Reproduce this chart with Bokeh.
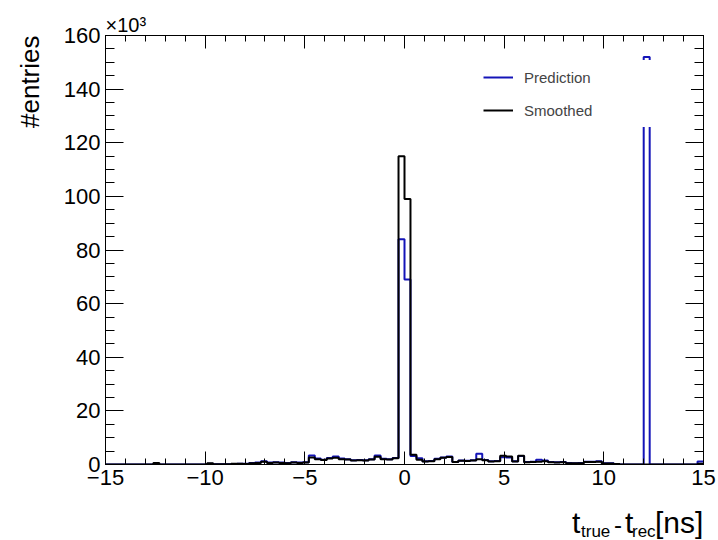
from bokeh.plotting import figure
from bokeh.layouts import column
from bokeh.models import (Range1d, FixedTicker, LinearAxis, Legend, LegendItem, Title, Div)
from bokeh.embed import file_html
from bokeh.resources import INLINE

# ---- data (entries in units of 10^3), 100 bins from -15 to 15 ns ----
bin_lo = -15.0
bin_hi = 15.0
n_bins = 100

prediction = [
    0, 0, 0, 0, 0, 0, 0, 0, 0.2, 0,
    0, 0, 0, 0, 0, 0, 0, 0.3, 0.1, 0.1,
    0.1, 0.2, 0.3, 0.3, 0.6, 0.7, 1.2, 0.7, 0.8, 0.7,
    0.6, 0.8, 0.7, 0.8, 3.4, 2.2, 1.8, 2.4, 3.0, 2.2,
    2.0, 1.6, 1.7, 1.6, 2.0, 3.4, 2.1, 2.0, 2.4, 84.0,
    69.0, 3.2, 2.3, 1.2, 1.3, 2.1, 2.6, 3.0, 0.9, 1.5,
    1.4, 1.6, 4.0, 1.7, 1.2, 1.3, 2.7, 2.6, 1.2, 3.2,
    0.9, 1.0, 1.8, 1.5, 0.9, 0.8, 0.9, 0.6, 0.5, 0.6,
    1.0, 1.0, 1.2, 0.5, 0.5, 0.1, 0, 0, 0, 0,
    152.0, 0, 0, 0, 0, 0, 0, 0, 0, 1.1,
]

smoothed = [
    0, 0, 0, 0, 0, 0, 0, 0, 0.6, 0,
    0, 0, 0, 0, 0, 0, 0, 0.5, 0.1, 0.1,
    0.1, 0.3, 0.3, 0.2, 0.5, 0.6, 1.0, 0.6, 0.7, 0.6,
    0.5, 0.7, 0.6, 0.7, 2.6, 2.0, 1.7, 2.2, 2.5, 2.0,
    1.9, 1.5, 1.6, 1.5, 1.9, 2.9, 2.0, 1.9, 2.3, 115.0,
    99.0, 3.6, 1.8, 1.1, 1.2, 2.0, 2.5, 2.8, 0.9, 1.4,
    1.3, 1.5, 2.0, 1.6, 1.1, 1.2, 3.3, 3.0, 1.1, 3.3,
    0.8, 0.9, 1.0, 1.2, 0.8, 0.7, 0.8, 0.5, 0.5, 0.5,
    0.9, 0.9, 1.0, 0.4, 0.4, 0.2, 0, 0, 0, 0,
    0, 0, 0, 0, 0, 0, 0, 0, 0, 0.3,
]

x_ticks = [-15, -10, -5, 0, 5, 10, 15]
x_tick_labels = ["\u221215", "\u221210", "\u22125", "0", "5", "10", "15"]
y_ticks = [0, 20, 40, 60, 80, 100, 120, 140, 160]
y_tick_labels = ["0", "20", "40", "60", "80", "100", "120", "140", "160"]

series_names = ["Prediction", "Smoothed"]
series_colors = ["#1414b8", "#000000"]

y_title = "#entries"
y_multiplier = "\u00d710\u00b3"

# x title pieces: t_true - t_rec[ns]  (0 = main text, 1 = subscript, 2 = separator)
x_title_parts = ["t", "true", "-", "t", "rec", "[ns]"]
x_title_kind = [0, 1, 2, 0, 1, 0]

# ---- figure ----
FONT = "Liberation Sans"
width_bin = (bin_hi - bin_lo) / n_bins
edges = [bin_lo + width_bin * i for i in range(n_bins + 1)]

p = figure(width=718, height=500, output_backend="svg", toolbar_location=None,
           x_range=Range1d(bin_lo, bin_hi), y_range=Range1d(0, 160),
           min_border_left=104, min_border_right=15, min_border_top=35,
           min_border_bottom=36, x_axis_location=None, y_axis_location=None)
p.xgrid.visible = False
p.ygrid.visible = False
p.outline_line_color = "black"
p.outline_line_width = 1
p.background_fill_color = "white"
p.border_fill_color = "white"

x_minor = [float(v) for v in range(int(bin_lo), int(bin_hi) + 1)]
y_minor = [float(v) for v in range(0, 161, 5)]


def make_axis(kind, show_labels):
    if kind == "x":
        ax = LinearAxis(ticker=FixedTicker(ticks=x_ticks, minor_ticks=x_minor))
        ax.major_tick_in = 13
        ax.minor_tick_in = 6
        if show_labels:
            ax.major_label_overrides = {t: s for t, s in zip(x_ticks, x_tick_labels)}
    else:
        ax = LinearAxis(ticker=FixedTicker(ticks=y_ticks, minor_ticks=y_minor))
        ax.major_tick_in = 18
        ax.minor_tick_in = 9
        if show_labels:
            ax.major_label_overrides = {t: s for t, s in zip(y_ticks, y_tick_labels)}
    ax.major_tick_out = 0
    ax.minor_tick_out = 0
    ax.axis_line_color = "black"
    ax.major_tick_line_color = "black"
    ax.minor_tick_line_color = "black"
    if show_labels:
        ax.major_label_text_font = FONT
        ax.major_label_text_font_size = "22px"
        ax.major_label_text_color = "black"
        ax.major_label_standoff = 5
    else:
        ax.major_label_text_font_size = "0px"
        ax.major_label_standoff = 0
    return ax


p.add_layout(make_axis("x", True), "below")
p.add_layout(make_axis("x", False), "above")
p.add_layout(make_axis("y", True), "left")
p.add_layout(make_axis("y", False), "right")

# axis titles that live in the side panels
p.add_layout(Title(text=y_title, align="right", vertical_align="top", text_font=FONT,
                   text_font_size="26px", text_font_style="normal", text_color="black",
                   standoff=28), "left")
p.add_layout(Title(text=y_multiplier, align="left", text_font=FONT, text_font_size="20px",
                   text_font_style="normal", text_color="black", standoff=0), "above")

renderers = []
for vals, col in zip([prediction, smoothed], series_colors):
    r = p.step(x=edges, y=list(vals) + [vals[-1]], mode="after",
               line_color=col, line_width=2)
    renderers.append(r)

legend = Legend(items=[LegendItem(label=n, renderers=[r]) for n, r in zip(series_names, renderers)],
                location=(371, 337), orientation="vertical",
                background_fill_color="white", background_fill_alpha=1.0,
                border_line_color="white", border_line_width=1, padding=6, spacing=13,
                glyph_width=30, glyph_height=20, label_standoff=11,
                label_width=160, label_text_font=FONT, label_text_font_size="15px",
                margin=0)
p.add_layout(legend)

# ---- x-axis title strip below the plot (t_true - t_rec[ns]) ----
x_title_left = [572, 581, 614, 625, 632, 655]      # layout: left edge of each piece (px)
kind_styles = [
    "font-size:30px;line-height:30px;top:8px;",
    "font-size:17px;line-height:17px;top:23px;",
    "font-size:24px;line-height:24px;top:13px;",
]
spans = "".join(
    '<span style="position:absolute;left:%dpx;white-space:pre;%s">%s</span>'
    % (xl, kind_styles[k], txt)
    for txt, k, xl in zip(x_title_parts, x_title_kind, x_title_left)
)
html = ('<div style="position:relative;width:718px;height:40px;'
        "font-family:'Liberation Sans';color:black;\">" + spans + "</div>")
x_title_div = Div(text=html, width=718, height=40, margin=(0, 0, 0, 0))

layout = column(p, x_title_div, spacing=0)
open("out.html", "w").write(file_html(layout, INLINE))
